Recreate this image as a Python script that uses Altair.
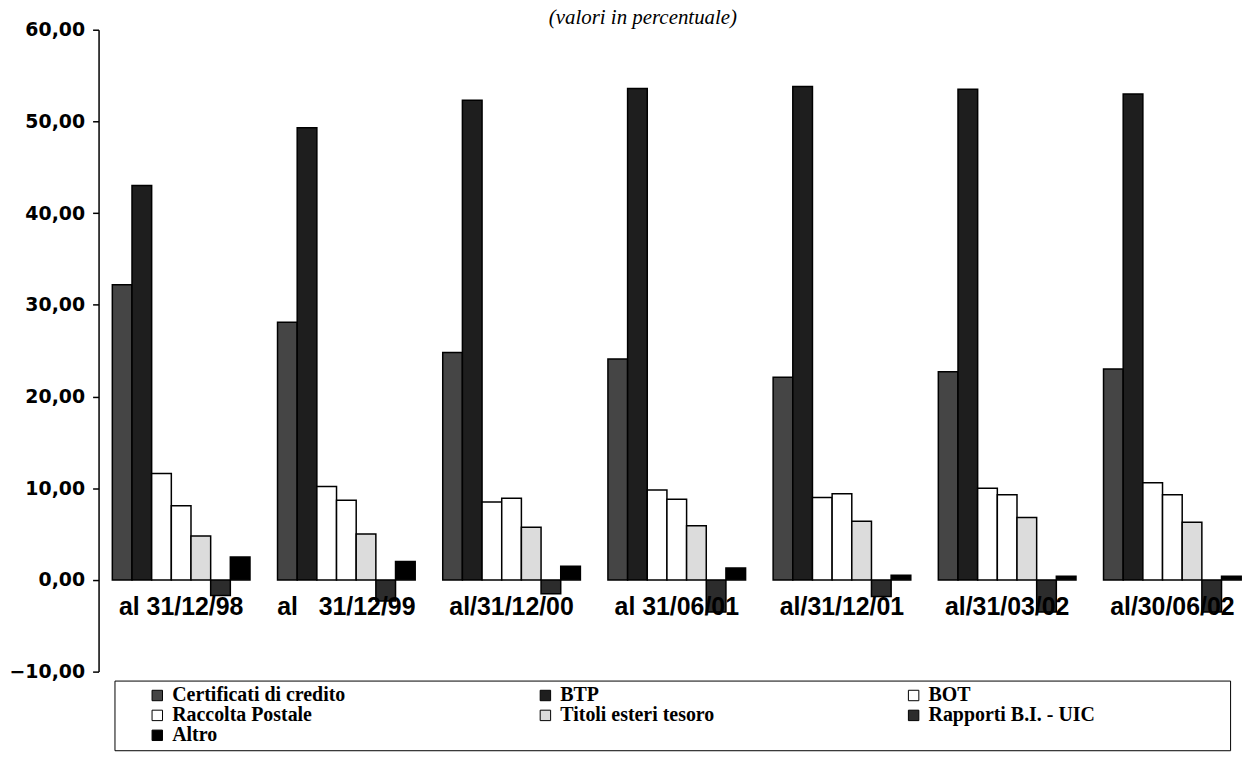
import altair as alt
import pandas as pd

categories = ["al 31/12/98", "al\u00a0\u00a0 31/12/99", "al/31/12/00", "al 31/06/01",
              "al/31/12/01", "al/31/03/02", "al/30/06/02"]
series = ["Certificati di credito", "BTP", "BOT", "Raccolta Postale",
          "Titoli esteri tesoro", "Rapporti B.I. - UIC", "Altro"]

certificati = [32.2, 28.1, 24.8, 24.1, 22.1, 22.7, 23.0]
btp = [43.0, 49.3, 52.3, 53.6, 53.8, 53.5, 53.0]
bot = [11.6, 10.2, 8.5, 9.8, 9.0, 10.0, 10.6]
raccolta = [8.1, 8.7, 8.9, 8.8, 9.4, 9.3, 9.3]
titoli = [4.8, 5.0, 5.75, 5.9, 6.4, 6.8, 6.3]
rapporti = [-1.7, -2.3, -1.5, -3.5, -1.8, -3.5, -3.5]
altro = [2.5, 2.0, 1.5, 1.3, 0.5, 0.4, 0.4]

colors = ["#454545", "#1e1e1e", "#ffffff", "#ffffff", "#dcdcdc", "#2c2c2c", "#000000"]

rows = []
for s, vals in zip(series, [certificati, btp, bot, raccolta, titoli, rapporti, altro]):
    for c, v in zip(categories, vals):
        rows.append({"cat": c, "serie": s, "val": v})
df = pd.DataFrame(rows)
lab_df = pd.DataFrame({"cat": categories})

x_scale = alt.Scale(domain=categories, range=[0, 1162], paddingInner=0, paddingOuter=0)
y_scale = alt.Scale(domain=[-10, 60], nice=False, zero=False)

pad = "\u00a0" * 26 + "\u200b"
label_expr = "datum.label == 'Rapporti B.I. - UIC' ? datum.label + '" + pad + "' : datum.label"

bars = alt.Chart(df).mark_bar(stroke="black", strokeWidth=1.5).encode(
    x=alt.X("cat:N", sort=categories, scale=x_scale,
            axis=alt.Axis(title=None, labels=False, domain=True, domainColor="black",
                          domainWidth=2, ticks=True, tickColor="black", tickSize=7,
                          tickWidth=1.5, bandPosition=0, offset=-92, grid=False)),
    xOffset=alt.XOffset("serie:N", sort=series,
                        scale=alt.Scale(domain=series, paddingInner=0, paddingOuter=0.7)),
    y=alt.Y("val:Q", scale=y_scale,
            axis=alt.Axis(title=None, values=[-10, 0, 10, 20, 30, 40, 50, 60],
                          labelExpr="replace(format(datum.value, '.2f'), '.', ',')",
                          labelFont="DejaVu Sans", labelFontWeight="bold", labelFontSize=19,
                          labelColor="black", labelPadding=8, tickSize=6, tickColor="black",
                          tickWidth=1.5, domainColor="black", domainWidth=1.5, grid=False)),
    color=alt.Color("serie:N", sort=series,
                    scale=alt.Scale(domain=series, range=colors),
                    legend=alt.Legend(
                        title=" ", titleOrient="left", titlePadding=28, titleFontSize=20,
                        orient="none", legendX=16, legendY=654, direction="horizontal",
                        columns=3, columnPadding=190, rowPadding=-8, padding=5,
                        strokeColor="black", fillColor="white",
                        labelFont="Liberation Serif", labelFontWeight="bold",
                        labelFontSize=20, labelColor="black", labelLimit=800, labelOffset=5,
                        symbolType="square", symbolSize=110, symbolStrokeColor="black",
                        symbolStrokeWidth=1, symbolOpacity=1,
                        labelExpr=label_expr)),
)

labels = alt.Chart(lab_df).mark_text(
    font="Liberation Sans", fontWeight="bold", fontSize=25, dy=27,
    baseline="middle", align="center", color="black"
).encode(
    x=alt.X("cat:N", sort=categories, scale=x_scale, axis=None),
    y=alt.datum(0),
    text="cat:N",
)

chart = alt.layer(bars, labels).properties(
    width=1154,
    height=645,
    padding={"left": 91, "top": 20, "right": 0, "bottom": 90},
    autosize=alt.AutoSizeParams(type="none"),
    title=alt.TitleParams(text="(valori in percentuale)", font="Liberation Serif",
                          fontSize=21, fontStyle="italic", fontWeight="normal",
                          color="black", anchor="middle", dx=-30, dy=28, offset=0,
                          frame="group", baseline="bottom"),
).configure(background="white").configure_view(stroke=None)

chart.save("out.html", embed_options={"renderer": "svg", "actions": False})
